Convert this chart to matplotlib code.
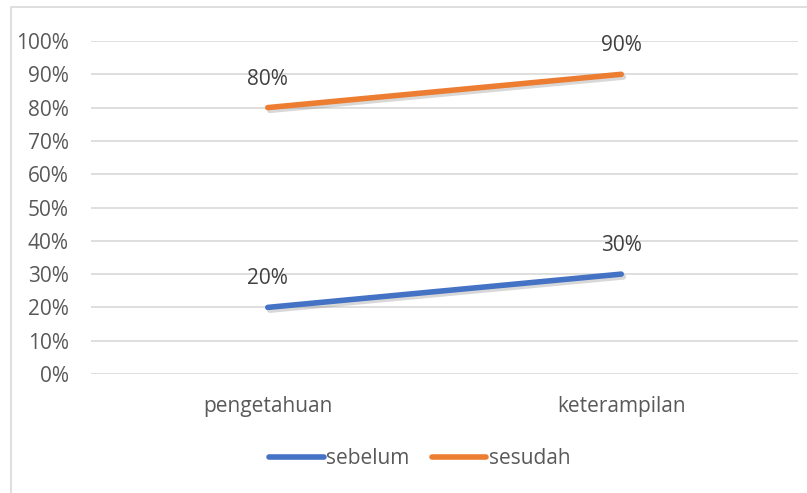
import matplotlib
matplotlib.use("Agg")
import matplotlib.pyplot as plt
import matplotlib.patheffects as pe
from matplotlib.patches import Rectangle
from matplotlib.lines import Line2D

categories = ["pengetahuan", "keterampilan"]
sebelum = [0.20, 0.30]
sesudah = [0.80, 0.90]
yticks = [0, 0.1, 0.2, 0.3, 0.4, 0.5, 0.6, 0.7, 0.8, 0.9, 1.0]
ytick_labels = ["0%", "10%", "20%", "30%", "40%", "50%", "60%", "70%", "80%", "90%", "100%"]

plt.rcParams['font.family'] = ['Open Sans', 'DejaVu Sans']
txt = "#595959"
blue = "#4472C4"
orange = "#ED7D31"
fs = 15

fig = plt.figure(figsize=(8.07, 4.93), dpi=100)
fig.patches.append(Rectangle((11/807, -0.1), 1.2, 1.1 - 7/493, transform=fig.transFigure,
                             fill=False, edgecolor="#d9d9d9", linewidth=1.2))
ax = fig.add_axes([91/807, 1 - 374/493, (798 - 91)/807, (374 - 41)/493])
ax.set_xlim(-0.5, 1.5)
ax.set_ylim(0, 1)
ax.set_yticks(yticks)
ax.set_yticklabels(ytick_labels)
ax.set_xticks(range(len(categories)))
ax.set_xticklabels(categories)
ax.tick_params(length=0, colors=txt, labelsize=fs)
ax.tick_params(axis='y', pad=16)
ax.tick_params(axis='x', pad=16)
for s in ax.spines.values():
    s.set_visible(False)
ax.grid(axis='y', color="#d9d9d9", linewidth=1.2)
ax.set_axisbelow(True)

shadow = [pe.SimpleLineShadow(offset=(1.5, -2), shadow_color="gray", alpha=0.3), pe.Normal()]
x = list(range(len(categories)))
ax.plot(x, sebelum, color=blue, lw=4, solid_capstyle='round', path_effects=shadow, clip_on=False)
ax.plot(x, sesudah, color=orange, lw=4, solid_capstyle='round', path_effects=shadow, clip_on=False)

for xi, v in zip(x, sebelum):
    ax.annotate(f"{int(round(v*100))}%", (xi, v), xytext=(0, 13), textcoords='offset points',
                ha='center', va='bottom', color="#404040", fontsize=fs)
for xi, v in zip(x, sesudah):
    ax.annotate(f"{int(round(v*100))}%", (xi, v), xytext=(0, 13), textcoords='offset points',
                ha='center', va='bottom', color="#404040", fontsize=fs)

handles = [Line2D([], [], color=blue, lw=4, solid_capstyle='round'),
           Line2D([], [], color=orange, lw=4, solid_capstyle='round')]
leg = fig.legend(handles, ["sebelum", "sesudah"], loc='center', bbox_to_anchor=(420/807, 1 - 459/493),
                 ncol=2, frameon=False, fontsize=fs, handlelength=2.6, handletextpad=0.12,
                 columnspacing=1.1, labelcolor=txt)

fig.savefig("out.png", dpi=100)
